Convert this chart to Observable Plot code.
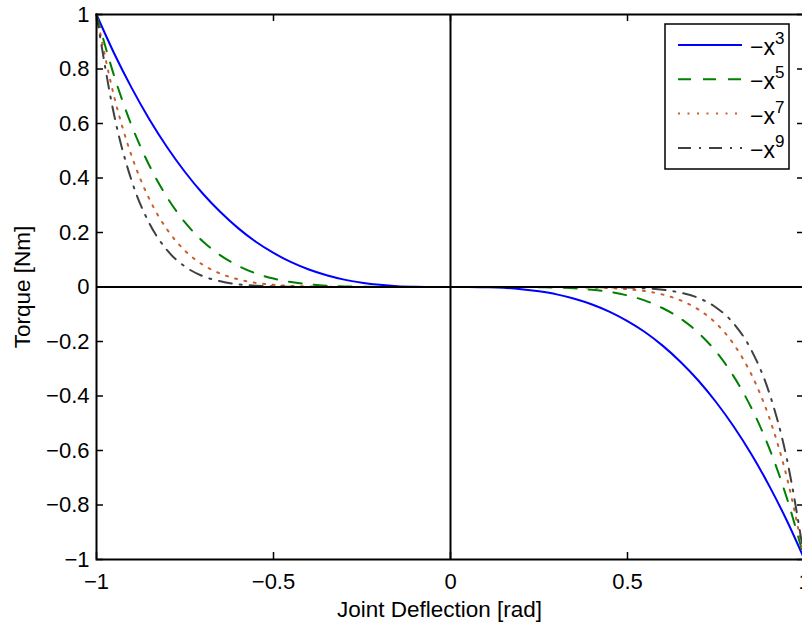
<!DOCTYPE html>
<html><head><meta charset="utf-8">
<script src="https://cdn.jsdelivr.net/npm/d3@7"></script>
<script src="https://cdn.jsdelivr.net/npm/@observablehq/plot@0.6"></script>
<style>html,body{margin:0;padding:0;overflow:hidden;background:#fff}</style>
</head><body><div id="chart"></div>
<script>
const xs = [-1,-0.95,-0.9,-0.85,-0.8,-0.75,-0.7,-0.65,-0.6,-0.55,-0.5,-0.45,-0.4,-0.35,-0.3,-0.25,-0.2,-0.15,-0.1,-0.05,0,0.05,0.1,0.15,0.2,0.25,0.3,0.35,0.4,0.45,0.5,0.55,0.6,0.65,0.7,0.75,0.8,0.85,0.9,0.95,1];
const y3 = [1,0.857,0.729,0.614,0.512,0.422,0.343,0.275,0.216,0.166,0.125,0.091,0.064,0.043,0.027,0.016,0.008,0.003,0.001,0,0,0,-0.001,-0.003,-0.008,-0.016,-0.027,-0.043,-0.064,-0.091,-0.125,-0.166,-0.216,-0.275,-0.343,-0.422,-0.512,-0.614,-0.729,-0.857,-1];
const y5 = [1,0.774,0.590,0.444,0.328,0.237,0.168,0.116,0.078,0.050,0.031,0.018,0.010,0.005,0.002,0.001,0,0,0,0,0,0,0,0,0,-0.001,-0.002,-0.005,-0.010,-0.018,-0.031,-0.050,-0.078,-0.116,-0.168,-0.237,-0.328,-0.444,-0.590,-0.774,-1];
const y7 = [1,0.698,0.478,0.321,0.210,0.133,0.082,0.049,0.028,0.015,0.008,0.004,0.002,0.001,0,0,0,0,0,0,0,0,0,0,0,0,0,-0.001,-0.002,-0.004,-0.008,-0.015,-0.028,-0.049,-0.082,-0.133,-0.210,-0.321,-0.478,-0.698,-1];
const y9 = [1,0.630,0.387,0.232,0.134,0.075,0.040,0.021,0.010,0.005,0.002,0.001,0,0,0,0,0,0,0,0,0,0,0,0,0,0,0,0,0,-0.001,-0.002,-0.005,-0.010,-0.021,-0.040,-0.075,-0.134,-0.232,-0.387,-0.630,-1];
const xTicks = [-1,-0.5,0,0.5,1];
const yTicks = [-1,-0.8,-0.6,-0.4,-0.2,0,0.2,0.4,0.6,0.8,1];
const legendExps = ["3","5","7","9"];
const xLabel = "Joint Deflection [rad]";
const yLabel = "Torque [Nm]";

const colors = ["#0000ff","#008000","#c8602d","#404040"];
const dashes = [null,"13,12","2,7.5","13,8,2,8"];
const fmt = d => String(d).replace("-", "\u2212");
const W = 802, H = 624, mL = 96, mR = -2, mT = 14, mB = 65;
const fw = W - mL - mR, fh = H - mT - mB;
const series = [y3, y5, y7, y9];
const lineMarks = series.map((ys, k) => Plot.line(
  xs.map((x, i) => ({x, y: ys[i]})),
  {x: "x", y: "y", stroke: colors[k], strokeWidth: 2,
   strokeDasharray: dashes[k] || undefined, curve: "monotone-x"}));

const plot = Plot.plot({
  width: W, height: H,
  marginLeft: mL, marginRight: mR, marginTop: mT, marginBottom: mB,
  x: {domain: [-1, 1]},
  y: {domain: [-1, 1]},
  style: {fontFamily: "'Liberation Sans', Arial, Helvetica, sans-serif", fontSize: "22px", background: "white", overflow: "hidden", color: "black"},
  marks: [
    ...lineMarks,
    Plot.ruleX([0], {stroke: "black", strokeWidth: 2}),
    Plot.ruleY([0], {stroke: "black", strokeWidth: 2}),
    Plot.frame({stroke: "black", strokeWidth: 2}),
    Plot.tickY(yTicks, {y: d => d, insetRight: fw - 7, stroke: "black", strokeWidth: 1.5}),
    Plot.tickY(yTicks, {y: d => d, insetLeft: fw - 7, stroke: "black", strokeWidth: 1.5}),
    Plot.tickX(xTicks, {x: d => d, insetTop: fh - 7, stroke: "black", strokeWidth: 1.5}),
    Plot.tickX(xTicks, {x: d => d, insetBottom: fh - 7, stroke: "black", strokeWidth: 1.5}),
    Plot.axisX({ticks: xTicks, tickSize: 0, tickPadding: 14, tickFormat: fmt, fontSize: 22, label: null}),
    Plot.axisY({ticks: yTicks, tickSize: 0, tickPadding: 7, tickFormat: fmt, fontSize: 22, label: null}),
    Plot.text([xLabel], {text: d => d, frameAnchor: "bottom", dy: 42, dx: -11, textAnchor: "middle", lineAnchor: "top", fontSize: 22.5, fill: "black"}),
    Plot.text([yLabel], {text: d => d, frameAnchor: "left", rotate: -90, dx: -74, textAnchor: "middle", lineAnchor: "middle", fontSize: 22.5, fill: "black"})
  ]
});

const svg = d3.select(plot);
const g = svg.append("g").attr("transform", "translate(665,24)");
g.append("rect").attr("width", 124).attr("height", 145)
  .attr("fill", "white").attr("stroke", "black").attr("stroke-width", 1.5);
legendExps.forEach((e, k) => {
  const cy = 21 + 34.3 * k;
  const ln = g.append("line").attr("x1", 13).attr("x2", 77).attr("y1", cy).attr("y2", cy)
    .attr("stroke", colors[k]).attr("stroke-width", 2);
  if (dashes[k]) ln.attr("stroke-dasharray", dashes[k]);
  const t = g.append("text").attr("x", 85).attr("y", cy + 10)
    .attr("text-anchor", "start").attr("font-size", 23).attr("fill", "black");
  t.append("tspan").text("\u2212x");
  t.append("tspan").attr("dy", -11).attr("font-size", 17).text(e);
});
document.getElementById("chart").appendChild(plot);
</script>
</body></html>
